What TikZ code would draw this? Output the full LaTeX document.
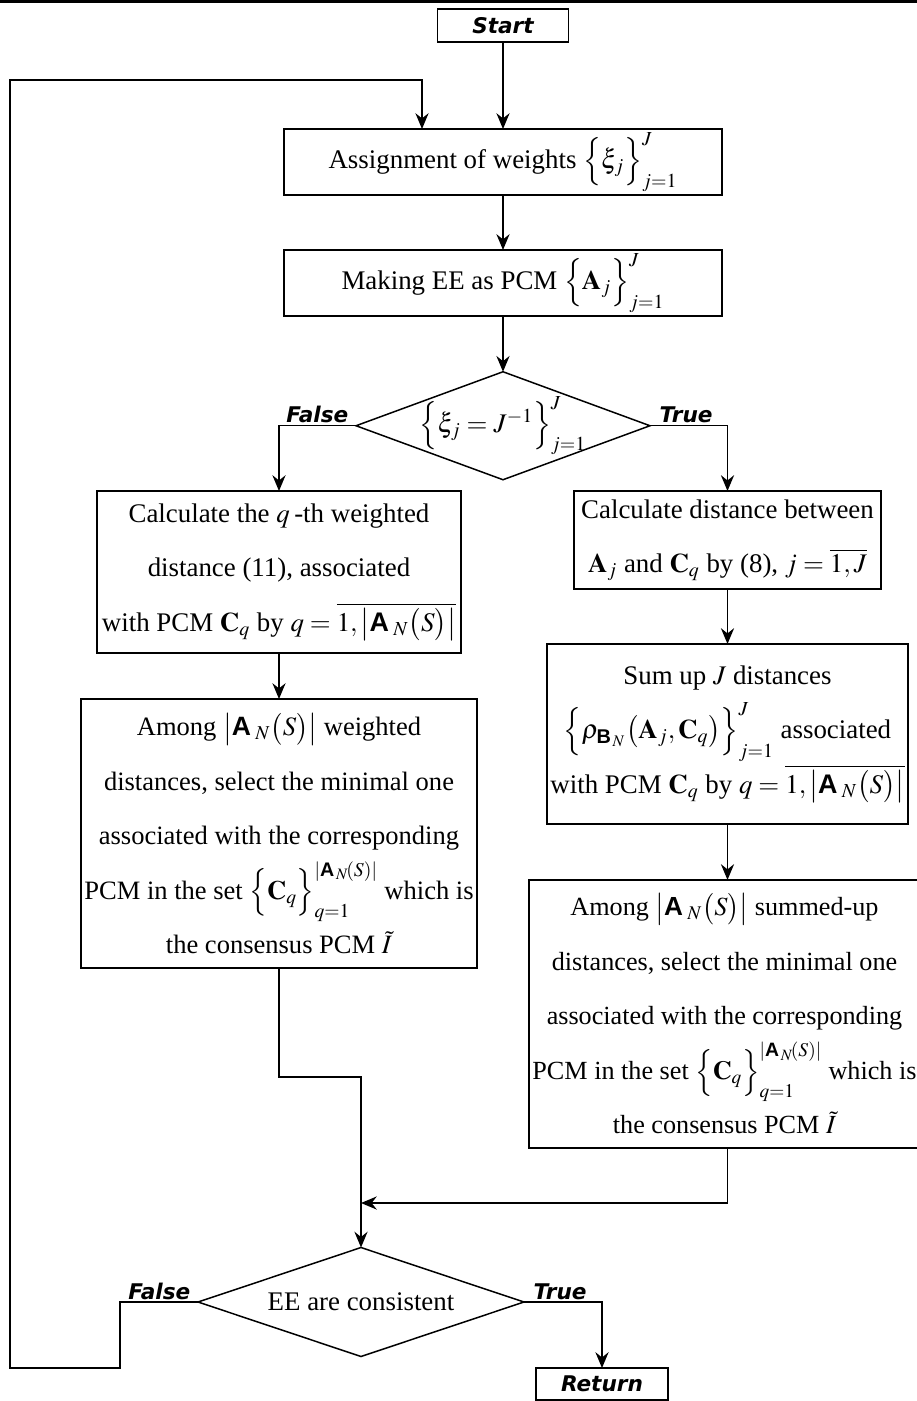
\documentclass[tikz,border=0pt]{standalone}
\usepackage{amsmath}
\usepackage{mathptmx}
\usepackage{fontspec}
\setmainfont{Liberation Serif}
\setsansfont{Liberation Sans}
\newfontfamily\lblfont{DejaVu Sans}
\usetikzlibrary{arrows.meta,shapes.geometric,positioning}

\newcommand{\sA}{\textsf{\bfseries A}}
\newcommand{\sB}{\textsf{\bfseries B}}
\newcommand{\cardA}{\bigl|\sA_{\;N}\bigl(S\bigr)\bigr|}
\newcommand{\cardAs}{\left|\sA_{\,N}\!\left(S\right)\right|}

\begin{document}
\begin{tikzpicture}[x=0.02cm,y=-0.02cm,line width=0.85pt,
    >={Stealth[length=9pt,width=7.5pt,inset=3pt]},
    block/.style={draw,line width=1.1pt,inner sep=2pt,outer sep=0pt,align=center,
      font=\fontsize{15.3}{31}\selectfont},
    decision/.style={diamond,draw,inner sep=0pt,outer sep=0pt,
      font=\fontsize{15.3}{18}\selectfont},
    term/.style={draw,line width=1.1pt,outer sep=0pt,minimum width=2.62cm,minimum height=0.66cm,
      font=\lblfont\bfseries\itshape\fontsize{12.3}{14}\selectfont},
    lbl/.style={inner sep=1pt,font=\lblfont\bfseries\itshape\fontsize{12.3}{14}\selectfont}]
  \useasboundingbox (0,0) rectangle (917,1401);
  \draw[line width=1.7pt] (0,1) -- (917,1);

  % main column
  \node[term] (start) at (503,25.5) {Start};
  \node[block,minimum width=8.78cm,minimum height=1.32cm] (assign) [below=1.74cm of start]
    {Assignment of weights $\Bigl\{\xi_j\Bigr\}_{j=1}^{J}$};
  \node[block,minimum width=8.78cm,minimum height=1.3cm] (makepcm) [below=1.1cm of assign]
    {Making EE as PCM $\Bigl\{\mathbf{A}_j\Bigr\}_{j=1}^{J}$};
  \node[decision,aspect=2.7,inner sep=-8pt,minimum width=5.88cm,minimum height=2.16cm] (eqw) [below=1.12cm of makepcm]
    {$\Bigl\{\xi_j=J^{-1}\Bigr\}_{j=1}^{J}$};

  % false branch
  \node[block,minimum width=7.28cm,minimum height=3.24cm] (calcq) at (279,572)
    {Calculate the $q$\,-th weighted\\ distance (11), associated\\
     with PCM $\mathbf{C}_q$ by $q=\overline{1,\cardA}$};
  \node[block,minimum width=7.88cm,minimum height=5.38cm,font=\fontsize{15.1}{31}\selectfont] (minw) [below=0.92cm of calcq]
    {Among $\cardA$ weighted\\ distances, select the minimal one\\
     associated with the corresponding\\
     PCM in the set $\Bigl\{\mathbf{C}_q\Bigr\}_{q=1}^{\cardAs}$ which is\\
     the consensus PCM $\tilde{I}$};

  % true branch
  \node[block,minimum width=6.14cm,minimum height=1.96cm] (calcdist) at (727.5,540)
    {Calculate distance between\\ $\mathbf{A}_j$ and $\mathbf{C}_q$ by (8), $j=\overline{1,J}$};
  \node[block,minimum width=7.22cm,minimum height=3.6cm] (sumup) [below=1.1cm of calcdist]
    {Sum up $J$ distances\\
     $\Bigl\{\rho_{\sB_{\,N}}\bigl(\mathbf{A}_j,\mathbf{C}_q\bigr)\Bigr\}_{j=1}^{J}$ associated\\
     with PCM $\mathbf{C}_q$ by $q=\overline{1,\cardA}$};
  \node[block,minimum width=7.84cm,minimum height=5.36cm,font=\fontsize{14.9}{31}\selectfont,xshift=-0.06cm] (mins) [below=1.12cm of sumup]
    {Among $\cardA$ summed-up\\ distances, select the minimal one\\
     associated with the corresponding\\
     PCM in the set $\Bigl\{\mathbf{C}_q\Bigr\}_{q=1}^{\cardAs}$ which is\\
     the consensus PCM $\tilde{I}$};

  % end
  \node[decision,aspect=3,minimum width=6.52cm,minimum height=2.18cm] (consist) at (361,1302)
    {EE are consistent};
  \node[term,minimum width=2.64cm,minimum height=0.64cm] (ret) at (602,1384) {Return};

  \coordinate (loopin) at (422,80);
  \coordinate (merge) at (361,1203);

  \draw[->] (start) -- (assign);
  \draw[->] (assign) -- (makepcm);
  \draw[->] (makepcm) -- (eqw);
  \draw[->] (eqw.west) node[lbl,anchor=south east,xshift=-3pt] {False} -| (calcq);
  \draw[->] (eqw.east) node[lbl,anchor=south west,xshift=4pt] {True} -| (calcdist);
  \draw[->] (calcq) -- (minw);
  \draw[->] (calcdist) -- (sumup);
  \draw[->] (sumup) -- (mins.north -| sumup.south);
  \draw[->] (minw.south) -- ++(0,109) -| (consist.north);
  \draw[->] (mins.south -| sumup.south) |- (merge);
  \draw[->] (consist.east) node[lbl,anchor=south west,xshift=4pt] {True} -| (ret);
  \draw[->] (consist.west) node[lbl,anchor=south east,xshift=-3pt] {False}
    -- ++(-78,0) -- ++(0,66) -- ++(-110,0) |- (loopin) -- (loopin |- assign.north);
\end{tikzpicture}
\end{document}
